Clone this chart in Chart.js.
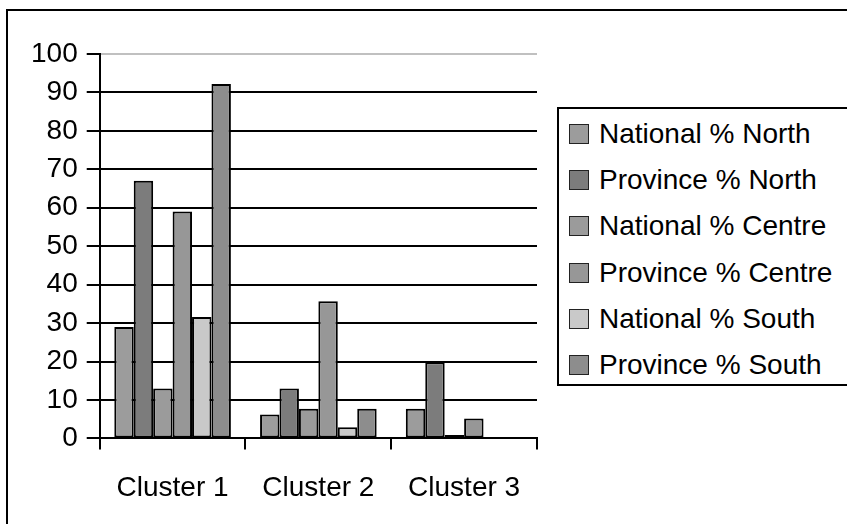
<!DOCTYPE html>
<html>
<head>
<meta charset="utf-8">
<script src="https://cdn.jsdelivr.net/npm/chart.js@4/dist/chart.umd.min.js"></script>
<style>
  html, body { margin: 0; padding: 0; background: #fff; overflow: hidden; }
  #wrap { position: relative; width: 847px; height: 524px; overflow: hidden; background: #fff; }
  #frame { position: absolute; left: 6px; top: 9px; width: 900px; height: 600px; border: 2px solid #000; box-sizing: border-box; }
  #chart { position: absolute; left: 0; top: 0; }
  #legend { position: absolute; left: 557px; top: 107px; width: 320px; height: 279px; border: 2px solid #000; box-sizing: border-box; background: #fff;
            font-family: "Liberation Sans", Arial, sans-serif; font-size: 28px; color: #000; }
  .item { position: absolute; left: 10px; height: 30px; display: flex; align-items: center; white-space: nowrap; }
  .sw { width: 20px; height: 20px; box-sizing: border-box; border: 1.5px solid #222; margin-right: 10px; }
</style>
</head>
<body>
<div id="wrap">
  <div id="frame"></div>
  <canvas id="chart" width="847" height="524"></canvas>
  <div id="legend"></div>
</div>
<script>
const categories = ["Cluster 1", "Cluster 2", "Cluster 3"];
const seriesNames = ["National % North", "Province % North", "National % Centre", "Province % Centre", "National % South", "Province % South"];
const nationalNorth = [29, 6.2, 7.7];
const provinceNorth = [67, 13, 19.8];
const nationalCentre = [13, 7.7, 0.9];
const provinceCentre = [59, 35.7, 5.2];
const nationalSouth = [31.6, 2.9, 0];
const provinceSouth = [92.2, 7.7, 0];
const yTicks = [0, 10, 20, 30, 40, 50, 60, 70, 80, 90, 100];

const seriesValues = [nationalNorth, provinceNorth, nationalCentre, provinceCentre, nationalSouth, provinceSouth];
const seriesColors = ["#9c9c9c", "#7c7c7c", "#9b9b9b", "#979797", "#c9c9c9", "#8d8d8d"];

const FONT = { family: "'Liberation Sans', Arial, sans-serif", size: 28 };

const chart = new Chart(document.getElementById('chart'), {
  type: 'bar',
  data: {
    labels: categories,
    datasets: seriesNames.map((name, i) => ({
      label: name,
      data: seriesValues[i],
      backgroundColor: seriesColors[i],
      borderColor: '#000',
      borderWidth: 2,
      borderSkipped: false,
      categoryPercentage: 0.8,
      barPercentage: 1.0
    }))
  },
  options: {
    responsive: false,
    animation: false,
    devicePixelRatio: 1,
    layout: { padding: { left: 22, top: 54, right: 310, bottom: -3 } },
    plugins: { legend: { display: false }, tooltip: { enabled: false } },
    scales: {
      x: {
        offset: true,
        grid: { display: true, drawOnChartArea: false, drawTicks: true, tickLength: 11, color: '#000', lineWidth: 2, offset: true },
        border: { display: true, color: '#000', width: 2 },
        ticks: { color: '#000', font: FONT, padding: 22, maxRotation: 0 }
      },
      y: {
        min: 0,
        max: 100,
        afterBuildTicks: (scale) => { scale.ticks = yTicks.map(v => ({ value: v })); },
        grid: {
          color: (c) => (c.tick && c.tick.value === 100) ? '#c0c0c0' : '#000',
          tickColor: '#000',
          lineWidth: 2,
          tickLength: 13
        },
        border: { display: true, color: '#000', width: 2 },
        ticks: { color: '#000', font: FONT, padding: 9 }
      }
    }
  }
});

const legend = document.getElementById('legend');
seriesNames.forEach((name, i) => {
  const row = document.createElement('div');
  row.className = 'item';
  row.style.top = (10 + i * 46.2) + 'px';
  const sw = document.createElement('span');
  sw.className = 'sw';
  sw.style.background = seriesColors[i];
  const tx = document.createElement('span');
  tx.textContent = name;
  row.appendChild(sw);
  row.appendChild(tx);
  legend.appendChild(row);
});
</script>
</body>
</html>
